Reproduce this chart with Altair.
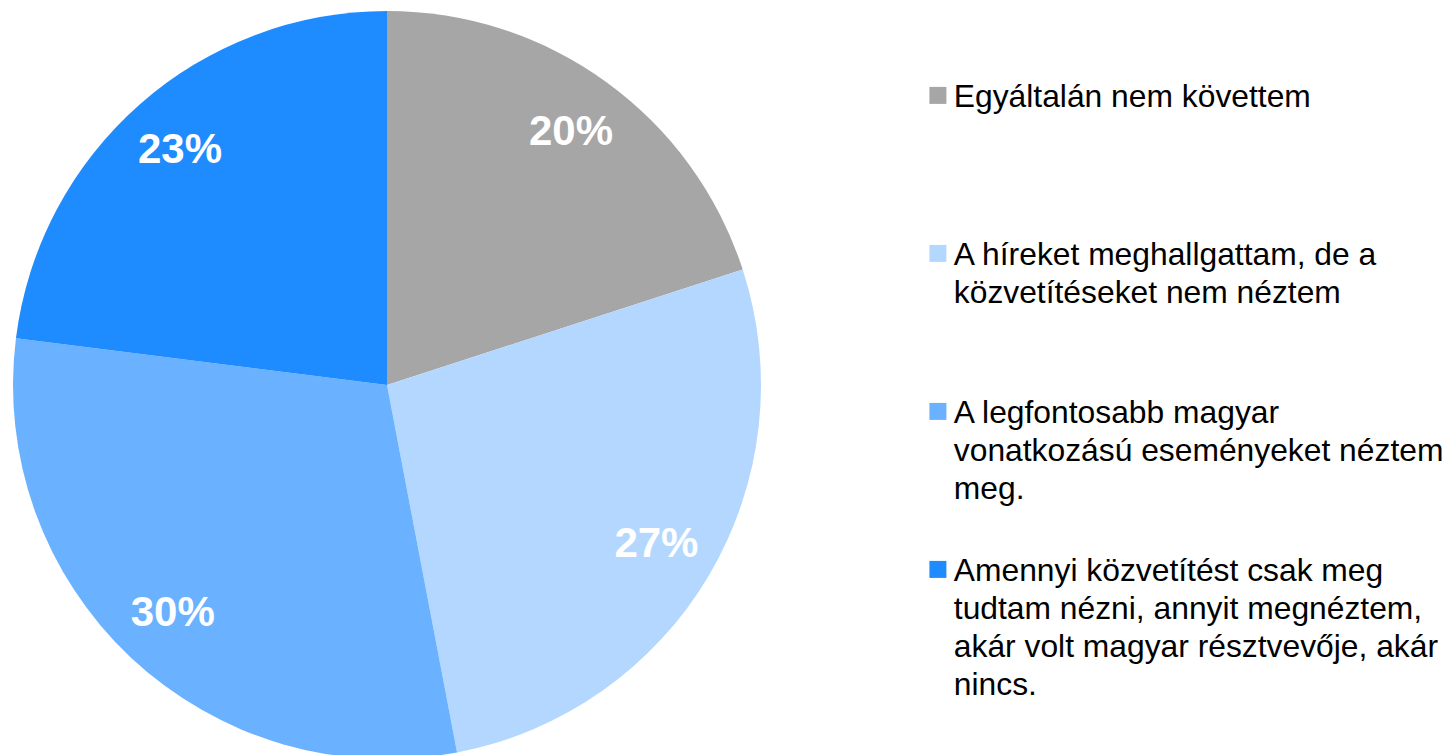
import altair as alt
import pandas as pd

categories = [
    "Egyáltalán nem követtem",
    "A híreket meghallgattam, de a közvetítéseket nem néztem",
    "A legfontosabb magyar vonatkozású eseményeket néztem meg.",
    "Amennyi közvetítést csak meg tudtam nézni, annyit megnéztem, akár volt magyar résztvevője, akár nincs.",
]
values = [20, 27, 30, 23]
pct_labels = ["20%", "27%", "30%", "23%"]
colors = ["#A6A6A6", "#B4D7FF", "#6AB2FF", "#1E8BFF"]
legend_lines = [
    ["Egyáltalán nem követtem"],
    ["A híreket meghallgattam, de a", "közvetítéseket nem néztem"],
    ["A legfontosabb magyar", "vonatkozású eseményeket néztem", "meg."],
    ["Amennyi közvetítést csak meg", "tudtam nézni, annyit megnéztem,",
     "akár volt magyar résztvevője, akár", "nincs."],
]

df = pd.DataFrame({
    "cat": categories,
    "value": values,
    "label": pct_labels,
    "idx": list(range(len(categories))),
})

def js_arr(lines):
    return "[" + ",".join("'" + l.replace("'", "\\'") + "'" for l in lines) + "]"

expr = ""
for c, lines in zip(categories, legend_lines):
    expr += "datum.label == '" + c.replace("'", "\\'") + "' ? " + js_arr(lines) + " : "
expr += "datum.label"

# square symbol shifted up so it aligns with the first text line
sym_path = "M-1,-2.353L1,-2.353L1,-0.353L-1,-0.353Z"

base = alt.Chart(df).encode(
    theta=alt.Theta("value:Q", stack=True),
    order=alt.Order("idx:Q"),
)

arcs = base.mark_arc(outerRadius=374, stroke=None).encode(
    color=alt.Color(
        "cat:N",
        scale=alt.Scale(domain=categories, range=colors),
        sort=categories,
        legend=alt.Legend(
            title=None,
            orient="none",
            legendX=890,
            legendY=62,
            labelExpr=expr,
            labelFont="Liberation Sans",
            labelFontSize=31.8,
            labelColor="#000000",
            labelBaseline="alphabetic",
            labelLimit=1000,
            labelOffset=0,
            symbolOffset=1,
            symbolType=sym_path,
            symbolSize=289,
            symbolStrokeWidth=0,
            symbolOpacity=1,
            gridAlign="all",
            rowPadding=11,
            padding=0,
        ),
    )
)

texts = base.mark_text(
    radius=313,
    font="Liberation Sans",
    fontSize=42,
    fontWeight="bold",
    color="white",
    align="center",
    baseline="middle",
).encode(text="label:N")

chart = (arcs + texts).properties(
    width=712,
    height=712,
    padding={"left": 23, "top": 21, "right": 702, "bottom": 20},
    autosize=alt.AutoSizeParams(type="none"),
).configure_view(stroke=None).configure(
    background="white",
    style={"guide-label": {"lineHeight": 38}},
)

chart.save("out.html", embed_options={"renderer": "svg", "actions": False})
